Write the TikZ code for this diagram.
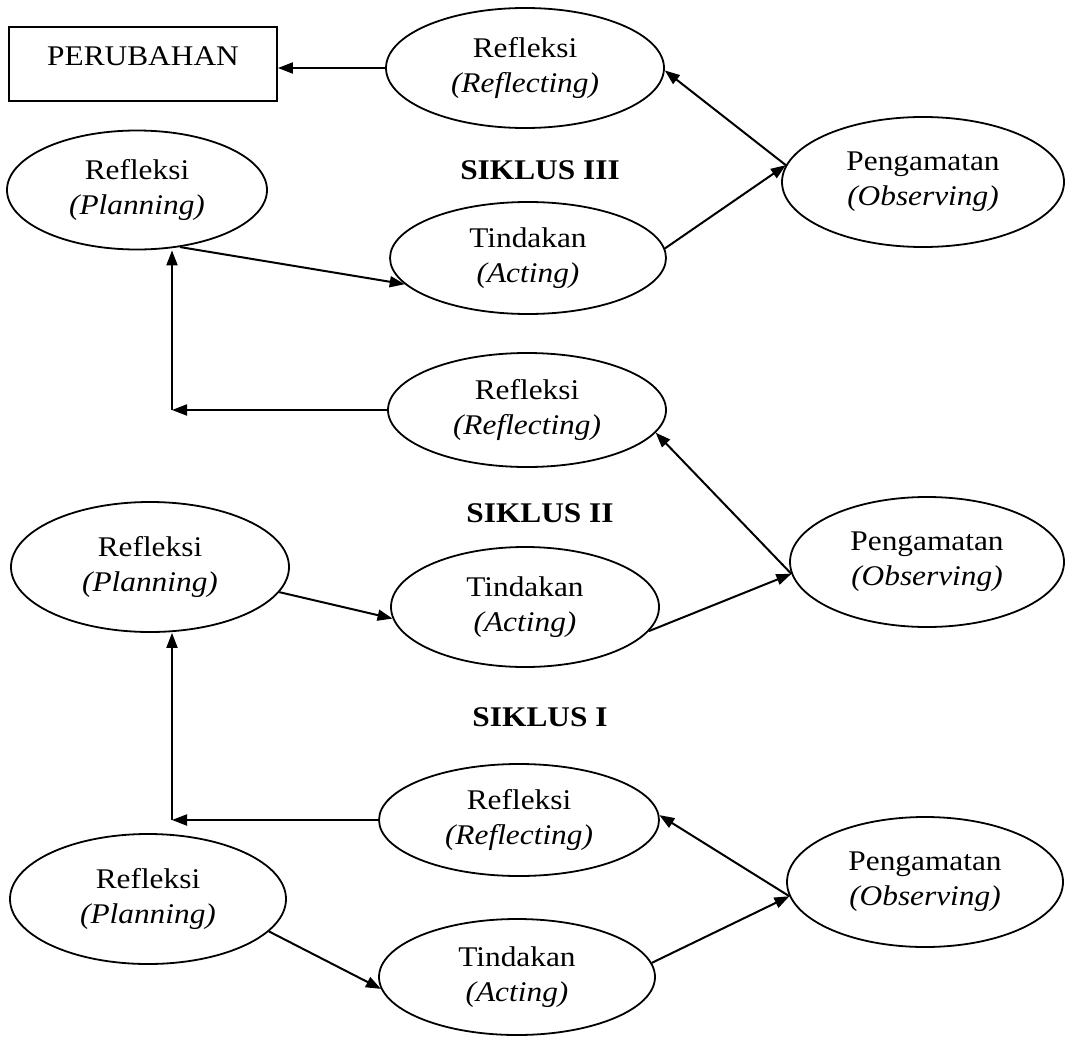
\documentclass[tikz,border=0pt]{standalone}
\usepackage{fontspec}
\setmainfont{Liberation Serif}
\usepackage{graphicx}
\usetikzlibrary{shapes.geometric,arrows.meta}
\newcommand{\sx}[1]{\scalebox{1.1}[1]{#1}}
\begin{document}
\begin{tikzpicture}[x=1pt,y=-1pt,
  every node/.style={font=\fontsize{28.5}{35}\selectfont},
  oval/.style={draw, ellipse, line width=1.8pt, inner sep=0pt, align=center},
  title/.style={font=\fontsize{28.5}{35}\selectfont\bfseries},
  arr/.style={line width=2pt, -{Triangle[length=15pt,width=11pt]}}]
\useasboundingbox (0,0) rectangle (1065,1038);

% Cycle III (top)
\node[draw, rectangle, line width=1.8pt, minimum width=268pt, minimum height=74pt, text depth=15pt, inner sep=0pt] (box) at (143,64) {\sx{PERUBAHAN}};
\node[oval, minimum width=278pt, minimum height=120pt] (ref3) at (525,68) {\sx{Refleksi}\\\sx{\textit{(Reflecting)}}};
\node[oval, minimum width=260pt, minimum height=119pt] (plan3) at (137,190) {\sx{Refleksi}\\\sx{\textit{(Planning)}}};
\node[title] (s3) at (540,170) {\sx{SIKLUS III}};
\node[oval, minimum width=276pt, minimum height=112pt] (act3) at (528,258) {\sx{Tindakan}\\\sx{\textit{(Acting)}}};
\node[oval, minimum width=282pt, minimum height=130pt] (obs3) at (923,182) {\sx{Pengamatan}\\\sx{\textit{(Observing)}}};

% Cycle II
\node[oval, minimum width=278pt, minimum height=114pt] (ref2) at (527,410) {\sx{Refleksi}\\\sx{\textit{(Reflecting)}}};
\node[title] (s2) at (540,513) {\sx{SIKLUS II}};
\node[oval, minimum width=278pt, minimum height=130pt] (plan2) at (150,567) {\sx{Refleksi}\\\sx{\textit{(Planning)}}};
\node[oval, minimum width=268pt, minimum height=120pt] (act2) at (525,607) {\sx{Tindakan}\\\sx{\textit{(Acting)}}};
\node[oval, minimum width=274pt, minimum height=130pt] (obs2) at (927,562) {\sx{Pengamatan}\\\sx{\textit{(Observing)}}};

% Cycle I
\node[title] (s1) at (540,717) {\sx{SIKLUS I}};
\node[oval, minimum width=280pt, minimum height=112pt] (ref1) at (519,820) {\sx{Refleksi}\\\sx{\textit{(Reflecting)}}};
\node[oval, minimum width=276pt, minimum height=130pt] (plan1) at (148,899) {\sx{Refleksi}\\\sx{\textit{(Planning)}}};
\node[oval, minimum width=276pt, minimum height=116pt] (act1) at (517,977) {\sx{Tindakan}\\\sx{\textit{(Acting)}}};
\node[oval, minimum width=276pt, minimum height=130pt] (obs1) at (925,882) {\sx{Pengamatan}\\\sx{\textit{(Observing)}}};

\coordinate (c3) at (172,410);
\coordinate (c1) at (172,820);

% Connectors cycle III
\draw[arr] (ref3.west) -- (ref3.west -| box.east);
\draw[arr] (obs3.173) -- (ref3.-1);
\draw[arr] (act3.4) -- (obs3.173);
\draw[arr] (plan3.-53) -- (act3.-168);

% Connectors cycle II
\draw[arr] (ref2.west) -- (c3);
\draw[arr] (c3) -- (c3 |- plan3.south);
\draw[arr] (obs2.185) -- (ref2.-10);
\draw[arr] (act2.-11) -- (obs2.185);
\draw[arr] (plan2.-11) -- (act2.185);

% Connectors cycle I
\draw[arr] (ref1.west) -- (c1);
\draw[arr] (c1) -- (c1 |- plan2.south);
\draw[arr] (obs1.186) -- (ref1.2);
\draw[arr] (act1.6) -- (obs1.186);
\draw[arr] (plan1.-15) -- (act1.185);
\end{tikzpicture}
\end{document}
